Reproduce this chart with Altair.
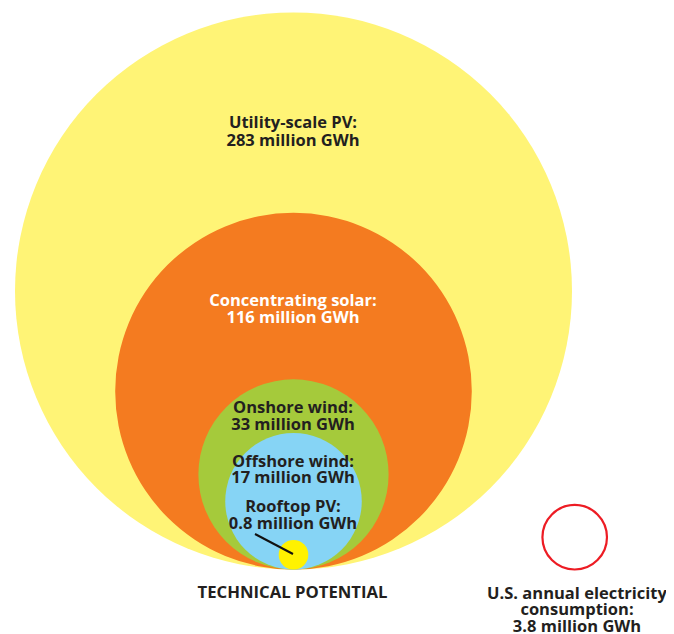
import math
import altair as alt
import pandas as pd

# ---- data ----
names = ["Utility-scale PV", "Concentrating solar", "Onshore wind", "Offshore wind", "Rooftop PV"]
values = [283, 116, 33, 17, 0.8]
colors = ["#FFF476", "#F47B20", "#A5CA3B", "#86D4F5", "#FFF200"]
consumption_name = "U.S. annual electricity consumption"
consumption_value = 3.8

# ---- layout constants ----
W, H = 658, 626
BASE = 561.5            # common tangent line (plot px)
K = 16.555              # px of radius per sqrt(million GWh)
X_TECH, X_CONS = 285.5, 566.7
FONT = "Open Sans"
DARK = "#231F20"
FS = 16.5


def fmt(v):
    return f"{v:g}"


circles = pd.DataFrame({"name": names, "value": values, "group": [1] * len(names)})
cons = pd.DataFrame({"name": [consumption_name], "value": [consumption_value], "group": [2]})

xs = alt.Scale(domain=[1, 2], range=[X_TECH, X_CONS])
ys = alt.Scale(domain=[0, BASE / K], range=[BASE, 0])
vmax = max(values)
# Vega symbol size = area of bounding square -> (2r)^2
ss = alt.Scale(domain=[0, vmax], range=[0, 4 * K * K * vmax])

enc = dict(
    x=alt.X("group:Q", scale=xs, axis=None),
    y=alt.Y("r:Q", scale=ys, axis=None),
    size=alt.Size("value:Q", scale=ss, legend=None),
)

filled = alt.Chart(circles).transform_calculate(r="sqrt(datum.value)").mark_circle(opacity=1).encode(
    color=alt.Color("name:N", scale=alt.Scale(domain=names, range=colors), legend=None),
    **enc,
)

ring = alt.Chart(cons).transform_calculate(r="sqrt(datum.value)").mark_point(
    shape="circle", filled=False, stroke="#ED1C24", strokeWidth=2.2, opacity=1
).encode(**enc)

pointer = alt.Chart(pd.DataFrame({"a": [0]})).mark_rule(color="#111111", strokeWidth=2).encode(
    x=alt.value(247), y=alt.value(526), x2=alt.value(285), y2=alt.value(546)
)

label_texts = [f"{n}:\n{fmt(v)} million GWh" for n, v in zip(names, values)]
label_y = [120, 297.7, 405, 458.7, 504]
label_lh = [18, 17.6, 17, 16.7, 16.5]
label_col = [DARK, "white", DARK, DARK, DARK]

layers = [filled, ring, pointer]
for t, y, lh, c in zip(label_texts, label_y, label_lh, label_col):
    layers.append(
        alt.Chart(pd.DataFrame({"t": [t]})).mark_text(
            font=FONT, fontWeight="bold", fontSize=FS, color=c, align="center",
            baseline="alphabetic", lineBreak="\n", lineHeight=lh,
        ).encode(text="t:N", x=alt.value(X_TECH - 0.5), y=alt.value(y))
    )

layers.append(
    alt.Chart(pd.DataFrame({"t": ["TECHNICAL POTENTIAL"]})).mark_text(
        font=FONT, fontWeight="bold", fontSize=16.7, color=DARK, align="center", baseline="alphabetic",
    ).encode(text="t:N", x=alt.value(284.5), y=alt.value(590.3))
)

cons_text = f"U.S. annual electricity\nconsumption:\n{fmt(consumption_value)} million GWh"
layers.append(
    alt.Chart(pd.DataFrame({"t": [cons_text]})).mark_text(
        font=FONT, fontWeight="bold", fontSize=FS, color=DARK, align="center",
        baseline="alphabetic", lineBreak="\n", lineHeight=16.8,
    ).encode(text="t:N", x=alt.value(569), y=alt.value(590.5))
)

chart = alt.layer(*layers).properties(
    width=W, height=H, autosize=alt.AutoSizeParams(type="none"), padding=0
).configure_view(stroke=None)

chart.save("out.html", embed_options={"renderer": "svg", "actions": False})
